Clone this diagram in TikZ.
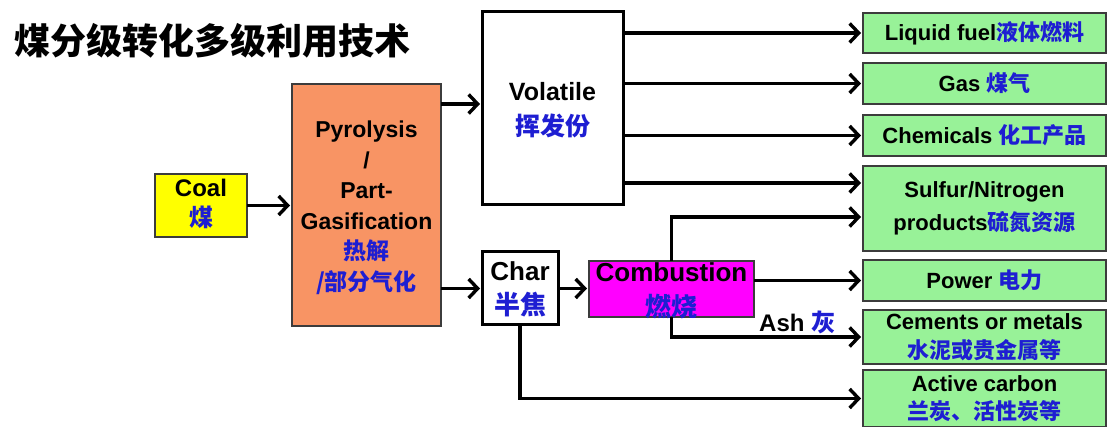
\documentclass[tikz,border=0pt]{standalone}
\usepackage{fontspec}
\setmainfont{Liberation Sans}
\newfontfamily\cjk{Noto Sans CJK SC}
\usetikzlibrary{arrows.meta}
\definecolor{zhblue}{RGB}{30,30,210}
\definecolor{gfill}{RGB}{152,242,152}
\definecolor{ofill}{RGB}{248,148,100}
\definecolor{yfill}{RGB}{255,255,0}
\definecolor{mfill}{RGB}{255,0,255}
\definecolor{edgegray}{RGB}{60,60,60}
\newcommand\zh[1]{{\cjk\bfseries\color{zhblue}#1}}
\begin{document}
\begin{tikzpicture}[x=1pt,y=-1pt,
  boxbase/.style={inner sep=0pt, outer sep=0pt},
  thinbox/.style={boxbase, draw=edgegray, line width=1.3pt},
  thickbox/.style={boxbase, draw=black, line width=3pt, fill=white},
  greenbox/.style={thinbox, fill=gfill, minimum width=243pt},
  txt/.style n args={2}{align=center, inner sep=0pt, font=\bfseries\fontsize{#1}{#2}\selectfont},
  arr/.style={line width=3.4pt, -{Straight Barb[length=9pt,width=19pt]}, shorten >=2pt}
]
\useasboundingbox (0,0) rectangle (1108,427);

% title
\node[anchor=west, inner sep=0pt, font=\cjk\bfseries\fontsize{36}{36}\selectfont] (title) at (14,41) {煤分级转化多级利用技术};

% boxes
\node[thinbox, fill=yfill, minimum width=92pt, minimum height=63pt] (coal) at (201,205.5) {};
\node[txt={24}{30}] (coalt) at (201,204) {Coal\\\zh{煤}};

\node[thinbox, fill=ofill, minimum width=149pt, minimum height=242pt] (pyro) at (366.5,205) {};
\node[txt={23}{30.5}] (pyrot) at (366.5,208) {Pyrolysis\\/\\Part-\\Gasification\\\zh{热解}\\\zh{/部分气化}};

\node[thickbox, minimum width=141pt, minimum height=193pt] (vol) at (552.5,108.5) {};
\node[txt={25}{35}] (volt) at (552.5,110) {Volatile\\\zh{挥发份}};

\node[thickbox, minimum width=76pt, minimum height=73pt] (char) at (520,288.5) {};
\node[txt={26}{34}] (chart) at (520,289) {Char\\\zh{半焦}};

\node[thinbox, fill=mfill, minimum width=165pt, minimum height=56pt] (comb) at (671.5,289) {};
\node[txt={26}{35}] (combt) at (671.5,291) {Combustion\\\zh{燃烧}};

% green product boxes
\node[greenbox, minimum height=40pt] (g1) at (984.5,33) {};
\node[txt={22}{22}] at (g1.center) {Liquid fuel\zh{液体燃料}};
\node[greenbox, minimum height=41pt] (g2) at (984.5,83.5) {};
\node[txt={22}{22}] at (g2.center) {Gas \zh{煤气}};
\node[greenbox, minimum height=41pt] (g3) at (984.5,135.5) {};
\node[txt={22}{22}] at (g3.center) {Chemicals \zh{化工产品}};
\node[greenbox, minimum height=85pt] (g4) at (984.5,208.5) {};
\node[txt={22}{33}] at (g4.center) {Sulfur/Nitrogen\\products\zh{硫氮资源}};
\node[greenbox, minimum height=41pt] (g5) at (984.5,280.5) {};
\node[txt={22}{22}] at (g5.center) {Power \zh{电力}};
\node[greenbox, minimum height=54pt] (g6) at (984.5,337) {};
\node[txt={22}{29}] at (g6.center) {Cements or metals\\\zh{水泥或贵金属等}};
\node[greenbox, minimum height=57pt] (g7) at (984.5,398.5) {};
\node[txt={22}{28}] at (984.5,399) {Active carbon\\\zh{兰炭、活性炭等}};

% helper coordinates
\coordinate (pv) at (441,104);
\coordinate (v4) at (623,183);
\coordinate (s2) at (671,217);

% connectors
\draw[arr] (coal.east) -- (coal.east -| pyro.west);
\draw[arr] (pyro.east |- pv) -- (vol.west |- pv);
\draw[arr] (pyro.east |- char.west) -- (char.west);
\draw[arr] (vol.east |- g1.west) -- (g1.west);
\draw[arr] (vol.east |- g2.west) -- (g2.west);
\draw[arr] (vol.east |- g3.west) -- (g3.west);
\draw[arr] (v4) -- (v4 -| g4.west);
\draw[arr] (char.east) -- (char.east -| comb.west);
\draw[arr] (comb.north) |- (s2 -| g4.west);
\draw[arr] (comb.east |- g5.west) -- (g5.west);
\draw[arr] (comb.south) |- (g6.west);
\draw[arr] (char.south) |- (g7.west);

% ash label
\node[anchor=south west, inner sep=0pt, font=\bfseries\fontsize{24}{24}\selectfont] (ash) at (759,334) {Ash \zh{灰}};
\end{tikzpicture}
\end{document}
